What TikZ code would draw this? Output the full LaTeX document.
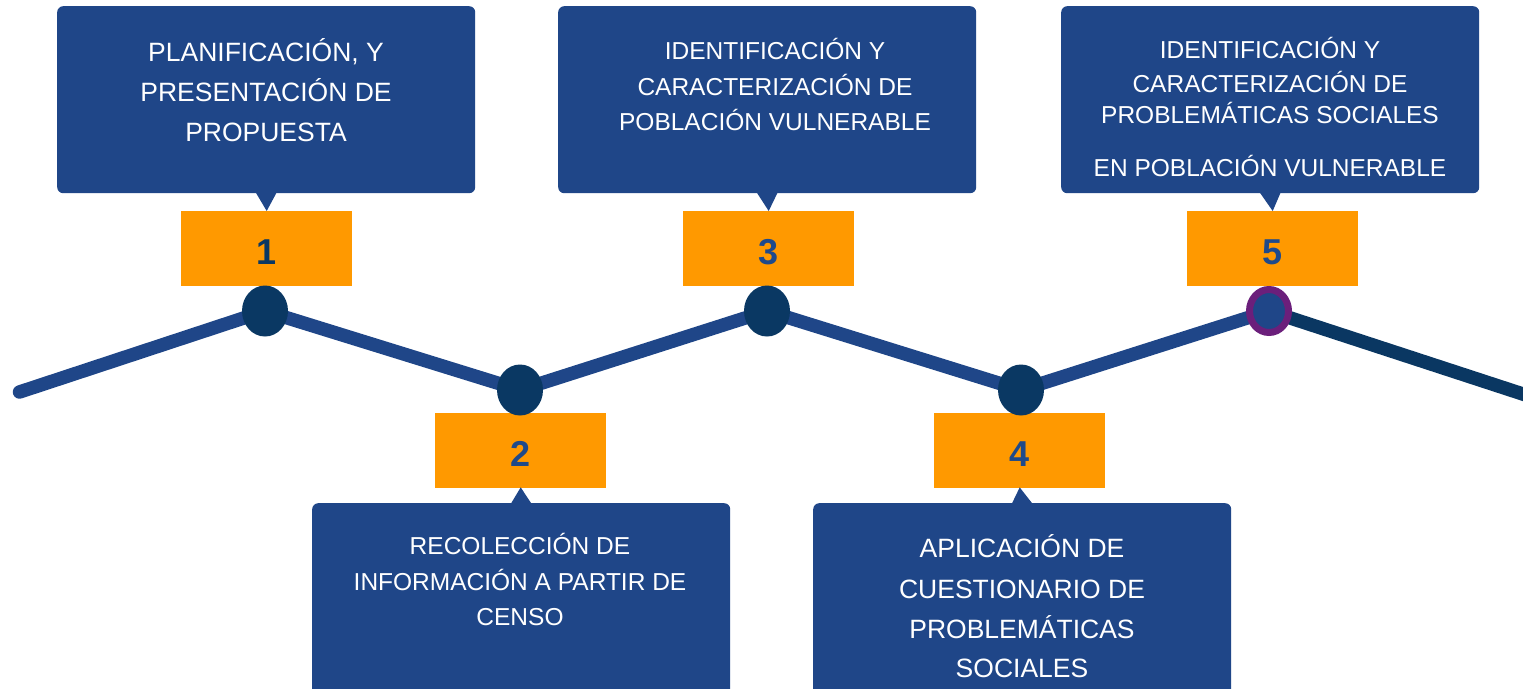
\documentclass[tikz,border=0pt]{standalone}
\usepackage{fontspec}
\setmainfont{Liberation Sans}
\usetikzlibrary{shapes.geometric,calc}
\definecolor{boxblue}{HTML}{1F4688}
\definecolor{linblue}{HTML}{1F4688}
\definecolor{navy}{HTML}{0A3863}
\definecolor{darkline}{HTML}{0A3762}
\definecolor{orng}{HTML}{FF9900}
\definecolor{purp}{HTML}{6B1F7B}
\definecolor{numblue}{HTML}{1F4A8A}
\tikzset{
  bluebox/.style={fill=boxblue, draw=none, rounded corners=6pt, minimum width=418pt, inner sep=0pt, anchor=north west},
  obox/.style={fill=orng, draw=none, minimum width=171pt, minimum height=75pt, inner sep=0pt, anchor=north west,
    text height=32pt, text depth=0pt,
    font=\fontsize{36}{40}\selectfont\bfseries, text=numblue},
  dot/.style={ellipse, fill=navy, minimum width=46pt, minimum height=51pt, inner sep=0pt},
  tline/.style={line width=13.5pt, draw=linblue, line cap=round, line join=round},
  tbig/.style={anchor=base, text=white, inner sep=0pt, font=\fontsize{26.5}{30}\selectfont},
  tsmall/.style={anchor=base, text=white, inner sep=0pt, font=\fontsize{24.5}{28}\selectfont},
  pointer/.style={fill=boxblue, draw=none}
}
\begin{document}
\begin{tikzpicture}[x=1pt,y=-1pt]
\clip (0,0) rectangle (1523,688);
\fill[white] (0,0) rectangle (1523,688);

% timeline
\coordinate (s) at (19.5,392);
\coordinate (p1) at (265,311);
\coordinate (p2) at (520,390);
\coordinate (p3) at (767,311);
\coordinate (p4) at (1021,390);
\coordinate (p5) at (1269,311);
\coordinate (e) at (1535,398);
\draw[tline] (s) -- (p1) -- (p2) -- (p3) -- (p4) -- (p5);
\draw[line width=13.5pt, draw=darkline, line cap=butt] (p5) -- (e);

% blue boxes
\node[bluebox, minimum height=187pt] (b1) at (57,6) {};
\node[bluebox, minimum height=187pt] (b3) at (558,6) {};
\node[bluebox, minimum height=187pt] (b5) at (1061,6) {};
\node[bluebox, minimum height=195pt] (b2) at (312,503) {};
\node[bluebox, minimum height=195pt] (b4) at (813,503) {};

% orange boxes
\node[obox, text=navy] (o1) at (181,211) {1};
\node[obox] (o3) at (683,211) {3};
\node[obox] (o5) at (1187,211) {5};
\node[obox] (o2) at (435,413) {2};
\node[obox] (o4) at (934,413) {4};

% pointers
\fill[pointer] ($(b1.south)+(-10.5,-1)$) -- ($(b1.south)+(10.5,-1)$) -- (o1.north) -- cycle;
\fill[pointer] ($(b3.south)+(-10.5,-1)$) -- ($(b3.south)+(10.5,-1)$) -- (o3.north) -- cycle;
\fill[pointer] ($(b5.south)+(-10.5,-1)$) -- ($(b5.south)+(10.5,-1)$) -- (o5.north) -- cycle;
\fill[pointer] ($(b2.north)+(-10.5,1)$) -- ($(b2.north)+(10.5,1)$) -- ($(o2.south)+(0,-1)$) -- cycle;
\fill[pointer] ($(b4.north)+(-10.5,1)$) -- ($(b4.north)+(10.5,1)$) -- ($(o4.south)+(0,-1)$) -- cycle;

% dots
\node[dot] (c1) at (p1) {};
\node[dot] (c2) at (p2) {};
\node[dot] (c3) at (p3) {};
\node[dot] (c4) at (p4) {};
\node[dot, fill=boxblue, draw=purp, line width=7pt, minimum width=39pt, minimum height=43pt] (c5) at (p5) {};

% texts box 1
\node[tbig] (t1a) at (266,61.5) {PLANIFICACIÓN, Y};
\node[tbig] (t1b) at (266,101.5) {PRESENTACIÓN DE};
\node[tbig] (t1c) at (266,141.5) {PROPUESTA};
% box 3
\node[tsmall] (t3a) at (775,59.5) {IDENTIFICACIÓN Y};
\node[tsmall] (t3b) at (775,95) {CARACTERIZACIÓN DE};
\node[tsmall] (t3c) at (775,130) {POBLACIÓN VULNERABLE};
% box 5
\node[tsmall] (t5a) at (1270,58) {IDENTIFICACIÓN Y};
\node[tsmall] (t5b) at (1270,92) {CARACTERIZACIÓN DE};
\node[tsmall] (t5c) at (1270,123) {PROBLEMÁTICAS SOCIALES};
\node[tsmall] (t5d) at (1270,176) {EN POBLACIÓN VULNERABLE};
% box 2
\node[tsmall] (t2a) at (520,554) {RECOLECCIÓN DE};
\node[tsmall] (t2b) at (520,590) {INFORMACIÓN A PARTIR DE};
\node[tsmall] (t2c) at (520,625) {CENSO};
% box 4
\node[tbig] (t4a) at (1022,557) {APLICACIÓN DE};
\node[tbig] (t4b) at (1022,598) {CUESTIONARIO DE};
\node[tbig] (t4c) at (1022,638) {PROBLEMÁTICAS};
\node[tbig] (t4d) at (1022,677) {SOCIALES};
\end{tikzpicture}
\end{document}
